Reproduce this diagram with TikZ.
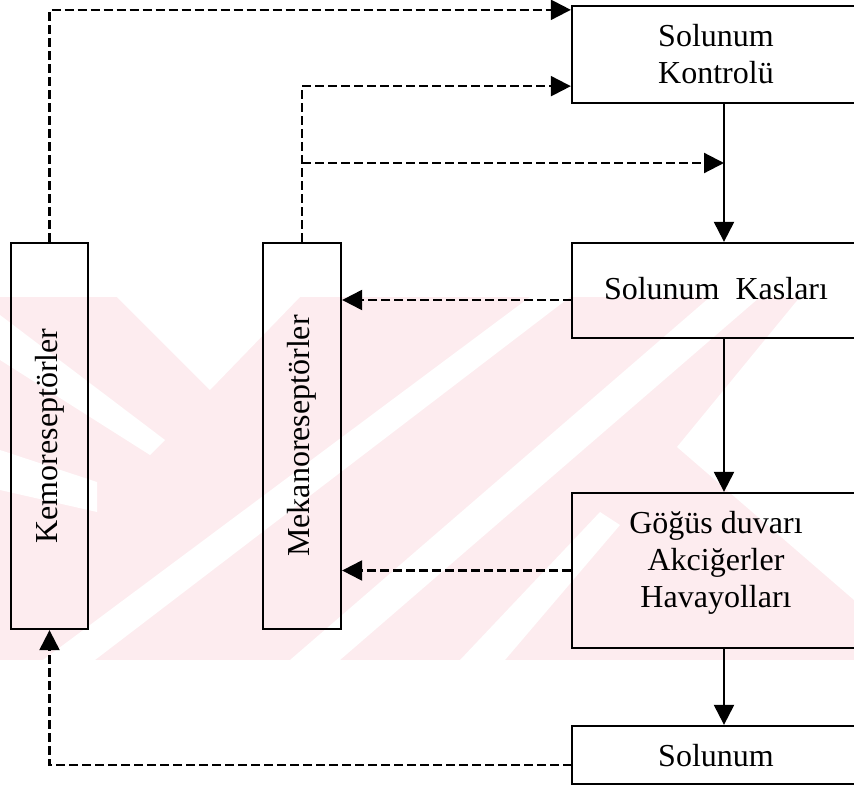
\documentclass[tikz,border=0pt]{standalone}
\usepackage{fontspec}
\setmainfont{Liberation Serif}
\usetikzlibrary{arrows.meta,calc}
\definecolor{wmpink}{RGB}{253,236,239}
\tikzset{
  boxr/.style={draw=black, line width=2.3pt, rectangle, inner sep=0pt},
  lbl/.style={font=\fontsize{32}{37}\selectfont, align=center, inner sep=0pt},
  dsh/.style={line width=2.2pt, dash pattern=on 9pt off 4pt, -{Triangle[length=20pt,width=20pt]}},
  sol/.style={line width=2.2pt, -{Triangle[length=20pt,width=20pt]}}
}
\begin{document}
\begin{tikzpicture}[x=1pt,y=-1pt]
\useasboundingbox (0,0) rectangle (854,787);
\clip (0,0) rectangle (854,787);
% watermark (faint)
\begin{scope}
\clip (0,297) rectangle (854,660);
\fill[wmpink] (0,297) rectangle (854,660);
\fill[white] (117,297) -- (300,297) -- (210,390) -- cycle;
\fill[white] (0,315) -- (0,360) -- (150,455) -- (165,440) -- cycle;
\fill[white] (0,450) -- (0,490) -- (97,512) -- (97,482) -- cycle;
\fill[white] (43,660) -- (95,660) -- (570,297) -- (530,297) -- cycle;
\fill[white] (290,660) -- (340,660) -- (760,297) -- (710,297) -- cycle;
\fill[white] (677,447) -- (800,297) -- (854,297) -- (854,600) -- cycle;
\fill[white] (460,660) -- (505,660) -- (620,525) -- (600,512) -- cycle;
\end{scope}
% boxes
\node[boxr, minimum width=288pt, minimum height=97pt] (kon) at (716,54.5) {};
\node[boxr, minimum width=288pt, minimum height=95pt] (kas) at (716,290.5) {};
\node[boxr, minimum width=288pt, minimum height=155pt] (gog) at (716,570.5) {};
\node[boxr, minimum width=288pt, minimum height=58pt] (solb) at (716,755) {};
\node[boxr, minimum width=77pt, minimum height=386pt] (kemo) at (49.5,436) {};
\node[boxr, minimum width=78pt, minimum height=386pt] (meka) at (302,436) {};
% texts
\node[lbl] (kont) at (716,54) {Solunum\\Kontrolü};
\node[lbl] (kast) at (716,289) {Solunum\hspace{0.5em}Kasları};
\node[lbl] (gogt) at (716,563) {Göğüs duvarı\\Akciğerler\\Havayolları};
\node[lbl] (solt) at (716,756) {Solunum};
\node[lbl, rotate=90] (kemot) at (kemo.center) {Kemoreseptörler};
\node[lbl, rotate=90] (mekat) at (meka.center) {Mekanoreseptörler};
% helper coordinates
\coordinate (ax) at (724,0);
\coordinate (br) at (302,163);
\coordinate (kaso) at (572,300);
\coordinate (solo) at (572,765);
% solid flow
\draw[sol] (kon.south -| ax) -- (kas.north -| ax);
\draw[sol] (kas.south -| ax) -- (gog.north -| ax);
\draw[sol] (gog.south -| ax) -- (solb.north -| ax);
% feedback dashed
\draw[dsh] (kemo.north) |- ([yshift=-5pt]kon.north west);
\draw[dsh] (meka.north) |- ([yshift=18pt]kon.south west);
\draw[dsh] (br) -- (br -| ax);
\draw[dsh] (kaso) -- (kaso -| meka.east);
\draw[dsh] (gog.west) -- (gog.west -| meka.east);
\draw[dsh] (solo) -| (kemo.south);
\end{tikzpicture}
\end{document}
